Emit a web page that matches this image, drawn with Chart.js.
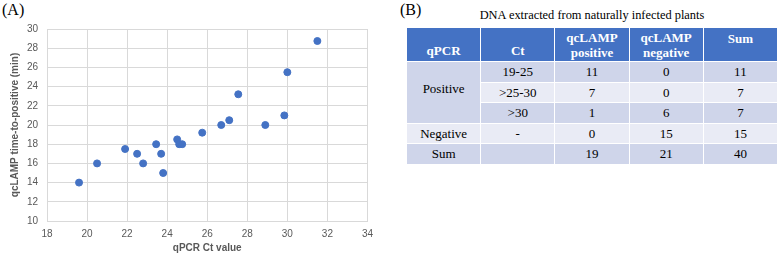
<!DOCTYPE html>
<html>
<head>
<meta charset="utf-8">
<script src="https://cdn.jsdelivr.net/npm/chart.js@4/dist/chart.umd.min.js"></script>
<style>
  body { margin: 0; background: #fff; width: 779px; height: 258px; position: relative; overflow: hidden; }
  .panel-label { position: absolute; font-family: "Liberation Serif", "Times New Roman", serif; font-size: 16px; color: #000; }
  #chartBox { position: absolute; left: 0; top: 0; width: 380px; height: 258px; }
  #tableTitle { position: absolute; left: 406px; top: 8px; width: 372px; text-align: center;
    font-family: "Liberation Serif", "Times New Roman", serif; font-size: 12.4px; color: #000; }
  #resultTable { position: absolute; left: 406px; top: 27px; width: 372px; border-collapse: collapse;
    table-layout: fixed; font-family: "Liberation Serif", "Times New Roman", serif; font-size: 13px; }
  #resultTable td, #resultTable th { border: 1px solid #fff; text-align: center; padding: 0; line-height: 15px; }
  #resultTable th { background: #4472C4; color: #fff; font-weight: bold; }
  #resultTable tr.head { height: 34px; }
  #resultTable tr.body { height: 20.5px; }
  #resultTable td { color: #000; }
  .dark { background: #CFD5EA; }
  .light { background: #E9EBF5; }
</style>
</head>
<body>
<div class="panel-label" style="left:2px;top:1px;">(A)</div>
<div class="panel-label" style="left:400px;top:1px;">(B)</div>
<div id="chartBox"><canvas id="scatterChart"></canvas></div>
<div id="tableTitle">DNA extracted from naturally infected plants</div>
<table id="resultTable"></table>
<script>
// scatter: qPCR Ct vs qcLAMP time-to-positive
const ctValues = [19.6, 20.5, 21.9, 22.5, 22.8, 23.45, 23.7, 23.8, 24.5, 24.6, 24.75, 25.75, 26.7, 27.1, 27.55, 28.9, 29.85, 30.0, 31.5];
const lampTimes = [14, 16, 17.5, 17, 16, 18, 17, 15, 18.5, 18, 18, 19.2, 20, 20.5, 23.2, 20, 21, 25.5, 28.75];

// table (B)
const tableHeaders = ['qPCR', 'Ct', 'qcLAMP<br>positive', 'qcLAMP<br>negative', 'Sum'];
const ctRanges = ['19-25', '>25-30', '>30', '-', ''];
const lampPositive = [11, 7, 1, 0, 19];
const lampNegative = [0, 0, 6, 15, 21];
const rowSums = [11, 7, 7, 15, 40];

document.addEventListener("DOMContentLoaded", () => {
    const ctx = document.getElementById('scatterChart');
    const tickFont = { family: 'Liberation Sans', size: 10 };
    const titleFont = { family: 'Liberation Sans', size: 10, weight: 'bold' };

    new Chart(ctx, {
        type: 'scatter',
        data: {
            datasets: [{
                data: ctValues.map((x, i) => ({ x: x, y: lampTimes[i] })),
                backgroundColor: '#4472C4',
                borderColor: '#4472C4',
                pointRadius: 3.5
            }]
        },
        options: {
            responsive: true,
            maintainAspectRatio: false,
            animation: false,
            layout: { padding: { top: 29, right: 6, left: 5, bottom: 0 } },
            plugins: { legend: { display: false }, tooltip: { enabled: false } },
            scales: {
                x: {
                    min: 18, max: 34,
                    ticks: { stepSize: 2, color: '#595959', font: tickFont, padding: 7 },
                    grid: { color: '#d9d9d9', drawTicks: false },
                    border: { color: '#d9d9d9' },
                    title: { display: true, text: 'qPCR Ct value', color: '#595959', font: titleFont, padding: { top: 3 } },
                    afterFit: s => { s.height = 37; }
                },
                y: {
                    min: 10, max: 30,
                    ticks: { stepSize: 2, color: '#595959', font: tickFont, padding: 9 },
                    grid: { color: '#d9d9d9', drawTicks: false },
                    border: { color: '#d9d9d9' },
                    title: { display: true, text: 'qcLAMP time-to-positive (min)', color: '#595959', font: titleFont, padding: { bottom: 2 } },
                    afterFit: s => { s.width = 42; }
                }
            }
        }
    });

    // build table
    const table = document.getElementById('resultTable');
    let html = '<tr class="head">' + tableHeaders.map((h, i) => {
        const va = i < 2 ? 'bottom' : (i === 4 ? 'top' : 'middle');
        return `<th style="vertical-align:${va};padding:${va === 'top' ? '3px' : '0'} 0 ${va === 'bottom' ? '3px' : '0'}">${h}</th>`;
    }).join('') + '</tr>';
    ctRanges.forEach((ct, i) => {
        const cls = i % 2 === 0 ? 'dark' : 'light';
        html += `<tr class="body ${cls}">`;
        if (i === 0) html += '<td rowspan="3" class="dark" style="padding-bottom:8px">Positive</td>';
        if (i === 3) html += '<td>Negative</td>';
        if (i === 4) html += '<td>Sum</td>';
        html += `<td>${ct.replace('>', '&gt;')}</td><td>${lampPositive[i]}</td><td>${lampNegative[i]}</td><td>${rowSums[i]}</td></tr>`;
    });
    table.innerHTML = html;
});
</script>
</body>
</html>
